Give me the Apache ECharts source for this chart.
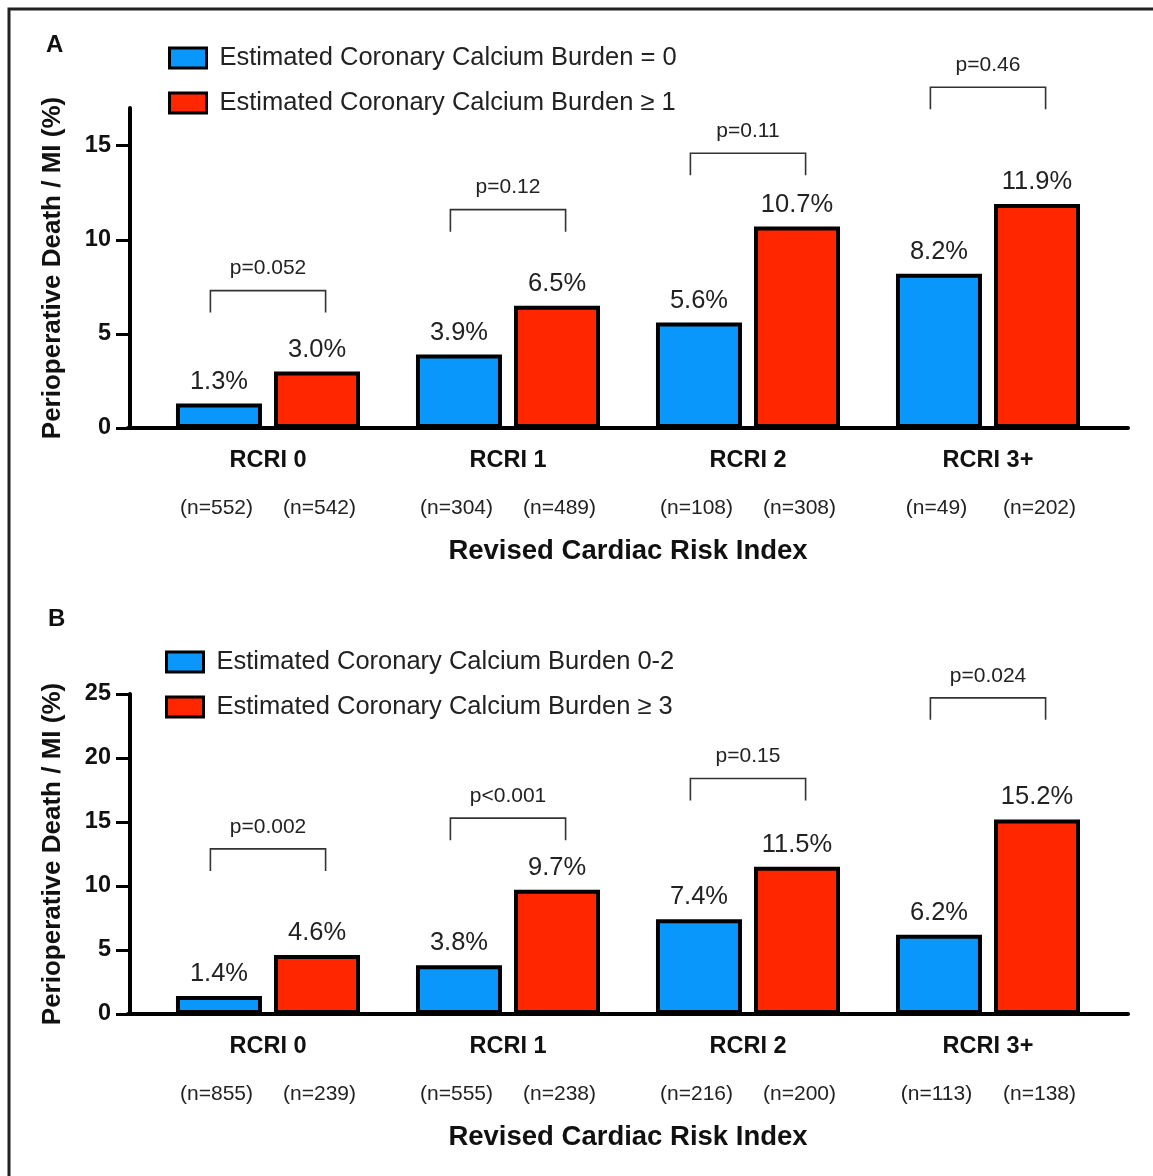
<!DOCTYPE html>
<html>
<head>
<meta charset="utf-8">
<script src="https://cdn.jsdelivr.net/npm/echarts@6/dist/echarts.min.js"></script>
<style>
  html, body { margin: 0; padding: 0; background: #fff; }
  #main { width: 1153px; height: 1176px; }
</style>
</head>
<body>
<div id="main"></div>
<script>
var categories = ['RCRI 0', 'RCRI 1', 'RCRI 2', 'RCRI 3+'];

// panel A
var namesA = ['Estimated Coronary Calcium Burden = 0', 'Estimated Coronary Calcium Burden \u2265 1'];
var lowA = [1.3, 3.9, 5.6, 8.2];
var highA = [3.0, 6.5, 10.7, 11.9];
var nLowA = [552, 304, 108, 49];
var nHighA = [542, 489, 308, 202];
var pA = ['p=0.052', 'p=0.12', 'p=0.11', 'p=0.46'];
var bracketA = [7.3, 11.6, 14.6, 18.1];

// panel B
var namesB = ['Estimated Coronary Calcium Burden 0-2', 'Estimated Coronary Calcium Burden \u2265 3'];
var lowB = [1.4, 3.8, 7.4, 6.2];
var highB = [4.6, 9.7, 11.5, 15.2];
var nLowB = [855, 555, 216, 113];
var nHighB = [239, 238, 200, 138];
var pB = ['p=0.002', 'p<0.001', 'p=0.15', 'p=0.024'];
var bracketB = [12.9, 15.3, 18.4, 24.7];

var yTicksA = [0, 5, 10, 15];
var yTicksB = [0, 5, 10, 15, 20, 25];

var BLUE = '#0A97FB';
var RED = '#FF2600';
var FONT = '"Liberation Sans", Arial, sans-serif';

let myChart = echarts.init(document.getElementById('main'));

function catAxis(gridIndex, nLow, nHigh) {
    return {
        type: 'category',
        gridIndex: gridIndex,
        data: categories,
        axisLine: { show: false },
        axisTick: { alignWithLabel: true, length: 13, lineStyle: { color: '#000', width: 4 } },
        axisLabel: {
            margin: 18,
            formatter: function (value, index) {
                return '{c|' + value + '}\n{n|(n=' + nLow[index] + ')}{n|(n=' + nHigh[index] + ')}';
            },
            rich: {
                c: { fontSize: 23.5, fontWeight: 'bold', color: '#111', lineHeight: 30, fontFamily: FONT },
                n: { fontSize: 21, color: '#222', lineHeight: 64, width: 103, align: 'center', fontFamily: FONT }
            }
        },
        name: 'Revised Cardiac Risk Index',
        nameLocation: 'middle',
        nameGap: 109,
        nameMoveOverlap: false,
        nameTextStyle: { fontSize: 27.5, fontWeight: 'bold', color: '#111', fontFamily: FONT }
    };
}

function valAxis(gridIndex, max, ticks) {
    return {
        type: 'value',
        gridIndex: gridIndex,
        min: 0,
        max: max,
        interval: 5,
        offset: 18,
        axisLine: { show: true, lineStyle: { color: '#000', width: 4 } },
        axisTick: { show: true, length: 14, customValues: ticks, lineStyle: { color: '#000', width: 3 } },
        axisLabel: { customValues: ticks, margin: 19, fontSize: 23.5, fontWeight: 'bold', color: '#111', fontFamily: FONT },
        splitLine: { show: false },
        name: 'Perioperative Death / MI (%)',
        nameLocation: 'middle',
        nameGap: 64,
        nameMoveOverlap: false,
        nameTextStyle: { fontSize: 26, fontWeight: 'bold', color: '#111', fontFamily: FONT }
    };
}

function baseAxisX(gridIndex) {
    return {
        type: 'value', gridIndex: gridIndex, min: 0, max: 1,
        axisLine: { show: true, lineStyle: { color: '#000', width: 4 } },
        axisTick: { show: false }, axisLabel: { show: false }, splitLine: { show: false }
    };
}

function baseAxisY(gridIndex) {
    return { type: 'value', gridIndex: gridIndex, min: 0, max: 1, show: false };
}

function barSeries(name, color, data, axisIndex) {
    return {
        type: 'bar',
        name: name,
        xAxisIndex: axisIndex,
        yAxisIndex: axisIndex,
        barWidth: 86,
        barGap: '14%',
        animation: false,
        itemStyle: { color: color, borderColor: '#000', borderWidth: 4 },
        label: {
            show: true,
            position: 'top',
            distance: 9,
            fontSize: 25.5,
            color: '#222',
            fontFamily: FONT,
            formatter: function (p) { return p.value.toFixed(1) + '%'; }
        },
        data: data
    };
}

function bracketSeries(levels, texts, axisIndex) {
    return {
        type: 'custom',
        xAxisIndex: axisIndex,
        yAxisIndex: axisIndex,
        clip: false,
        silent: true,
        animation: false,
        renderItem: function (params, api) {
            var c = api.coord([api.value(0), api.value(1)]);
            var half = api.size([1, 0])[0] * 0.24;
            var leg = 22;
            return {
                type: 'group',
                children: [
                    {
                        type: 'polyline',
                        shape: { points: [[c[0] - half, c[1] + leg], [c[0] - half, c[1]], [c[0] + half, c[1]], [c[0] + half, c[1] + leg]] },
                        style: { stroke: '#333', lineWidth: 1.6, fill: null }
                    },
                    {
                        type: 'text',
                        x: c[0],
                        y: c[1] - 22,
                        style: {
                            text: texts[params.dataIndex],
                            fill: '#222',
                            fontSize: 21,
                            fontFamily: FONT,
                            align: 'center',
                            verticalAlign: 'middle'
                        }
                    }
                ]
            };
        },
        data: levels.map(function (v, i) { return [i, v]; })
    };
}

function legendFor(names, left, top) {
    return {
        data: names,
        orient: 'vertical',
        left: left,
        top: top,
        icon: 'rect',
        itemWidth: 37,
        itemHeight: 20,
        itemGap: 19,
        selectedMode: false,
        itemStyle: { borderColor: '#000', borderWidth: 3 },
        textStyle: { fontSize: 25.5, color: '#222', fontFamily: FONT, padding: [0, 0, 0, 8] }
    };
}

myChart.setOption({
    backgroundColor: '#fff',
    animation: false,
    textStyle: { fontFamily: FONT },
    title: [
        { text: 'A', left: 41, top: 28, textStyle: { fontSize: 24, fontWeight: 'bold', color: '#111', fontFamily: FONT } },
        { text: 'B', left: 43, top: 602, textStyle: { fontSize: 24, fontWeight: 'bold', color: '#111', fontFamily: FONT } }
    ],
    legend: [
        legendFor(namesA, 163, 40),
        legendFor(namesB, 160, 644)
    ],
    grid: [
        { left: 148, width: 960, top: 108, height: 320 },
        { left: 148, width: 960, top: 694, height: 320 },
        { left: 128, width: 1000, top: 108, height: 320 },
        { left: 128, width: 1000, top: 694, height: 320 }
    ],
    xAxis: [
        catAxis(0, nLowA, nHighA),
        catAxis(1, nLowB, nHighB),
        baseAxisX(2),
        baseAxisX(3)
    ],
    yAxis: [
        valAxis(0, 17, yTicksA),
        valAxis(1, 25, yTicksB),
        baseAxisY(2),
        baseAxisY(3)
    ],
    graphic: [
        {
            type: 'polyline',
            shape: { points: [[9, 1176], [9, 9], [1153, 9]] },
            style: { stroke: '#222', lineWidth: 3, fill: null }
        }
    ],
    series: [
        barSeries(namesA[0], BLUE, lowA, 0),
        barSeries(namesA[1], RED, highA, 0),
        barSeries(namesB[0], BLUE, lowB, 1),
        barSeries(namesB[1], RED, highB, 1),
        bracketSeries(bracketA, pA, 0),
        bracketSeries(bracketB, pB, 1)
    ]
});

window.addEventListener('resize', function () {
    myChart.resize();
});
</script>
</body>
</html>
